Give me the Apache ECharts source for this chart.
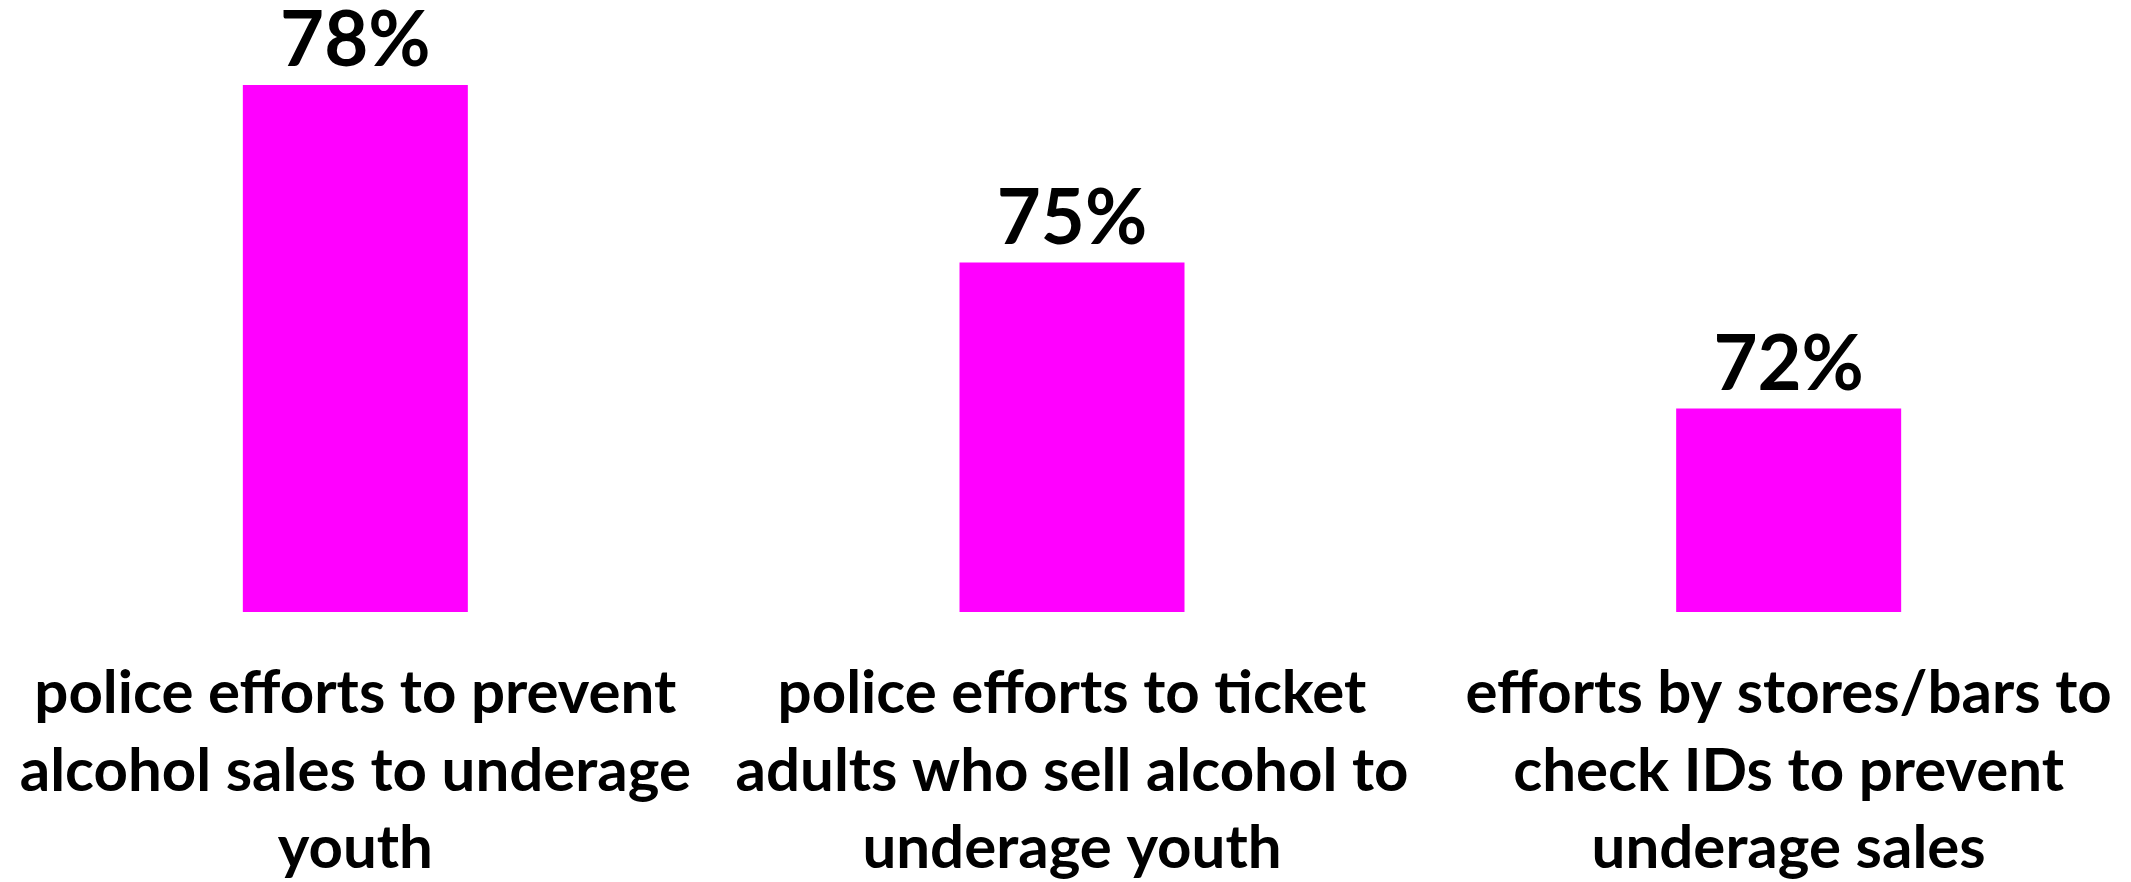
<!DOCTYPE html>
<html>
<head>
<meta charset="utf-8">
<script src="https://cdn.jsdelivr.net/npm/echarts@6/dist/echarts.min.js"></script>
<style>
  html, body { margin: 0; padding: 0; background: #fff; }
  #main { width: 2131px; height: 882px; }
</style>
</head>
<body>
<div id="main"></div>
<script>
var categories = [
    'police efforts to prevent\nalcohol sales to underage\nyouth',
    'police efforts to ticket\nadults who sell alcohol to\nunderage youth',
    'efforts by stores/bars to\ncheck IDs to prevent\nunderage sales'
];
var values = [78.1, 74.7, 71.9];

var myChart = echarts.init(document.getElementById('main'));

var option = {
    backgroundColor: '#ffffff',
    animation: false,
    grid: {
        left: -3,
        right: -16,
        top: 38,
        bottom: 270,
        outerBoundsMode: 'none'
    },
    xAxis: {
        type: 'category',
        data: categories,
        axisLine: { show: false },
        axisTick: { show: false },
        axisLabel: {
            interval: 0,
            margin: 43,
            color: '#000',
            fontFamily: 'Lato',
            fontWeight: 'bold',
            fontSize: 60,
            lineHeight: 77.5,
            align: 'center'
        }
    },
    yAxis: {
        type: 'value',
        min: 68,
        max: 79,
        show: false,
        splitLine: { show: false }
    },
    series: [
        {
            type: 'bar',
            data: values,
            barWidth: 225,
            itemStyle: { color: '#ff00ff' },
            label: {
                show: true,
                position: 'top',
                distance: 5,
                color: '#000',
                fontFamily: 'Lato',
                fontWeight: 'bold',
                fontSize: 76,
                formatter: function (p) {
                    return Math.round(p.value) + '%';
                }
            }
        }
    ]
};

myChart.setOption(option);
</script>
</body>
</html>
